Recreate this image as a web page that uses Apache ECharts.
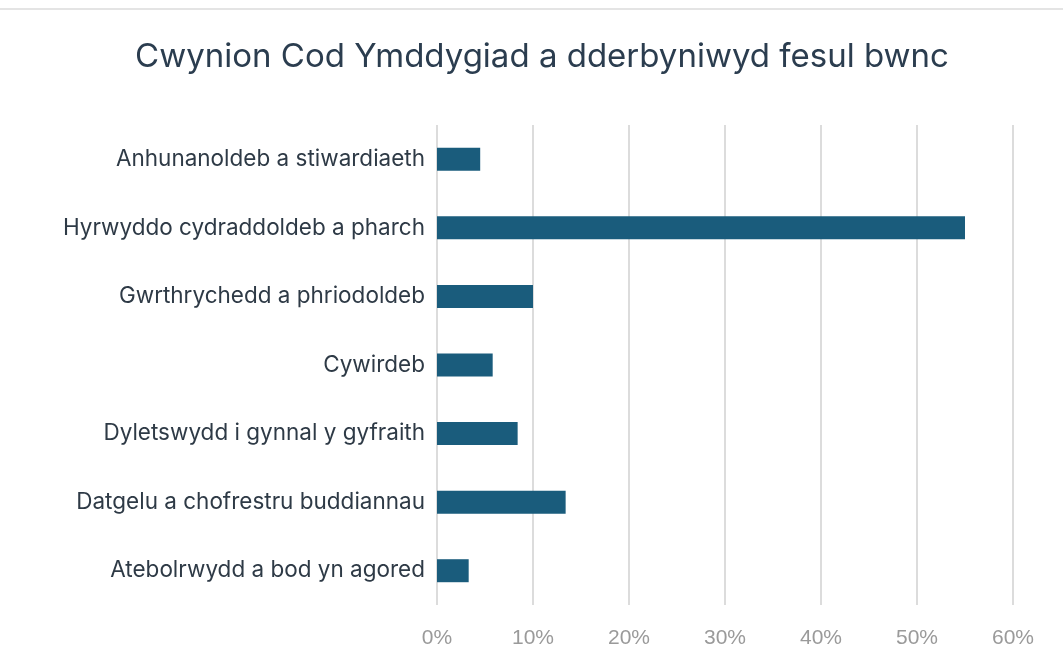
<!DOCTYPE html>
<html>
<head>
<meta charset="utf-8">
<script src="https://cdn.jsdelivr.net/npm/echarts@6/dist/echarts.min.js"></script>
<style>
  html, body { margin: 0; padding: 0; background: #fff; }
  #topLine { position: absolute; left: 0; top: 8px; width: 1063px; height: 2px; background: #e4e4e4; }
  #chart { width: 1063px; height: 653px; }
</style>
</head>
<body>
<div id="topLine"></div>
<div id="chart"></div>
<script>
var categories = [
	'Anhunanoldeb a stiwardiaeth',
	'Hyrwyddo cydraddoldeb a pharch',
	'Gwrthrychedd a phriodoldeb',
	'Cywirdeb',
	'Dyletswydd i gynnal y gyfraith',
	'Datgelu a chofrestru buddiannau',
	'Atebolrwydd a bod yn agored'
];
var values = [4.5, 55, 10, 5.8, 8.4, 13.4, 3.3];
var tickValues = [0, 10, 20, 30, 40, 50, 60];

var myChart = echarts.init(document.getElementById('chart'));

var option = {
	animation: false,
	title: {
		text: 'Cwynion Cod Ymddygiad a dderbyniwyd fesul bwnc',
		left: 537,
		textAlign: 'center',
		top: 36,
		textStyle: {
			fontFamily: 'Inter',
			fontWeight: 'normal',
			fontSize: 33,
			color: '#2b3d4f'
		}
	},
	grid: { left: 437, right: 50, top: 125, bottom: 48, containLabel: false },
	xAxis: {
		type: 'value',
		min: tickValues[0],
		max: tickValues[tickValues.length - 1],
		interval: 10,
		axisLine: { show: false },
		axisTick: { show: false },
		splitLine: { lineStyle: { color: '#dcdcdc', width: 2 } },
		axisLabel: {
			formatter: '{value}%',
			margin: 23,
			fontFamily: 'Liberation Sans',
			fontSize: 21,
			color: '#9a9a9a'
		}
	},
	yAxis: {
		type: 'category',
		inverse: true,
		data: categories,
		axisLine: { show: false },
		axisTick: { show: false },
		axisLabel: {
			margin: 12,
			fontFamily: 'Inter',
			fontSize: 22.5,
			color: '#2e3a46'
		}
	},
	series: [{
		type: 'bar',
		data: values,
		barWidth: 23,
		itemStyle: { color: '#1a5c7c' }
	}]
};

myChart.setOption(option);
</script>
</body>
</html>
